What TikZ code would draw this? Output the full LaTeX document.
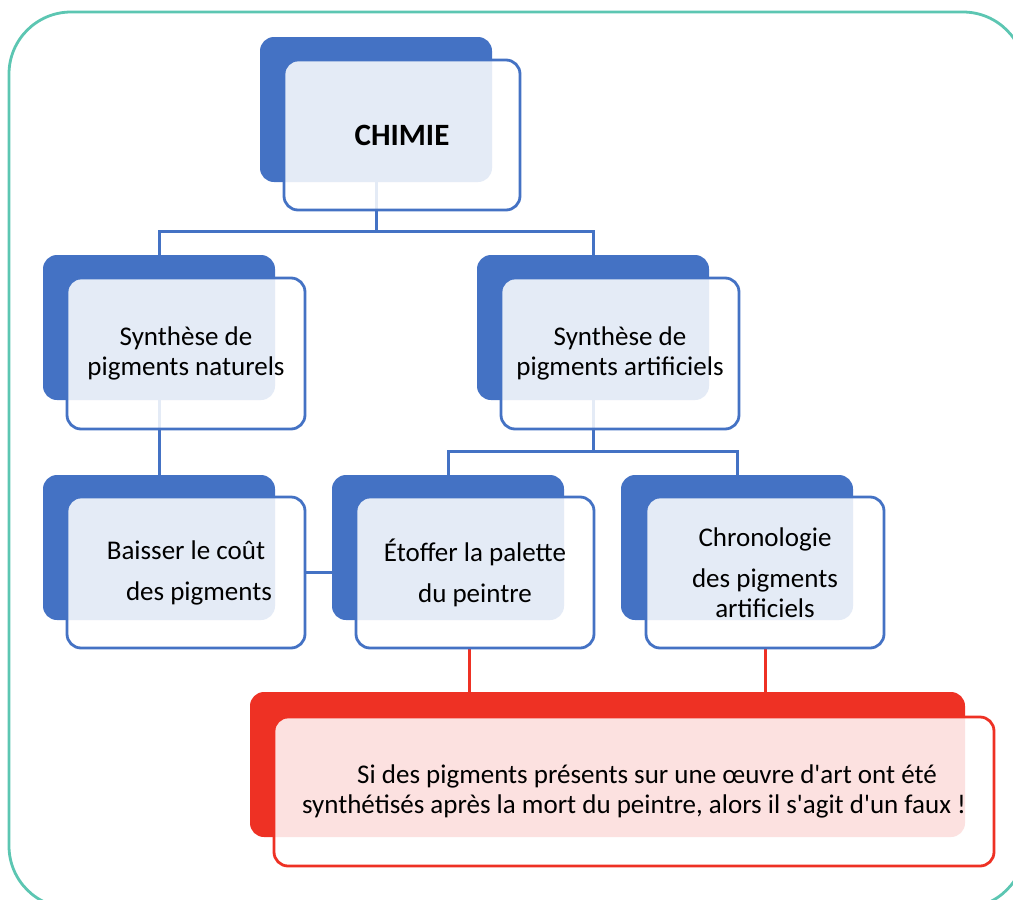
\documentclass[tikz,border=0pt]{standalone}
\usepackage{fontspec}
\setmainfont{Carlito}
\definecolor{blueD}{HTML}{4472C4}
\definecolor{redD}{HTML}{EE3124}
\definecolor{tealB}{HTML}{5CC6B2}
\pgfdeclarelayer{bg}
\pgfsetlayers{bg,main}
\tikzset{
  back/.style={fill=#1, rounded corners=14pt, minimum width=232pt, minimum height=145pt,
    inner sep=0pt, outer sep=0pt, anchor=north west},
  front/.style={draw=#1, line width=2.8pt, fill=white, fill opacity=0.86, text opacity=1,
    rounded corners=14pt, minimum width=238pt, minimum height=151pt, inner sep=0pt,
    outer sep=0pt, anchor=north west, align=center, font=\fontsize{27}{30}\selectfont},
  conn/.style={draw=#1, line width=3pt},
}
\begin{document}
\begin{tikzpicture}[x=1pt,y=-1pt]
\useasboundingbox (0,0) rectangle (1013,900);
\clip (0,0) rectangle (1013,900);
\draw[tealB, line width=2.8pt, rounded corners=62pt] (9,12) rectangle (1025,908);

% CHIMIE
\node[back=blueD] (chimieB) at (260,37) {};
\node[front=blueD, minimum width=236pt, minimum height=150pt] (chimie) at (284,60)
  {\fontsize{31}{36}\selectfont\bfseries CHIMIE};

% level 2
\node[back=blueD] (natB) at (43,255) {};
\node[front=blueD] (nat) at (67,278) {Synthèse de\\pigments naturels};
\node[back=blueD] (artB) at (477,255) {};
\node[front=blueD] (art) at (501,278) {Synthèse de\\pigments artificiels};

% level 3
\node[back=blueD] (baiB) at (43,475) {};
\node[front=blueD] (bai) at (67,497) {Baisser le coût\\[11pt]\hspace*{26pt}des pigments};
\node[back=blueD] (etoB) at (332,475) {};
\node[front=blueD] (eto) at (356,497) {Étoffer la palette\\[11pt]du peintre};
\node[back=blueD] (chrB) at (621,475) {};
\node[front=blueD] (chr) at (646,497) {Chronologie\\[11pt]des pigments\\artificiels};

% conclusion
\node[back=redD, minimum width=715pt] (redB) at (250,692) {};
\node[front=redD, minimum width=720pt, minimum height=149pt] (red) at (274,717)
  {\hspace*{26pt}Si des pigments présents sur une œuvre d\textquotesingle art ont été\\
   synthétisés après la mort du peintre, alors il s\textquotesingle agit d\textquotesingle un faux !};

\begin{pgfonlayer}{bg}
\draw[conn=blueD] (chimieB.south) -- ++(0,49) coordinate (j1) -| (natB.north);
\draw[conn=blueD] (j1) -| (artB.north);
\draw[conn=blueD] (natB.south) -- (baiB.north);
\draw[conn=blueD] (artB.south) -- ++(0,51) coordinate (j2) -| (etoB.north);
\draw[conn=blueD] (j2) -| (chrB.north);
\draw[conn=blueD] (bai.east) -- (bai.east -| etoB.west);
\draw[conn=redD] ([xshift=-6pt]eto.south) -- ([xshift=-6pt]eto.south |- redB.north);
\draw[conn=redD] (chr.south) -- (chr.south |- redB.north);
\end{pgfonlayer}
\end{tikzpicture}
\end{document}
